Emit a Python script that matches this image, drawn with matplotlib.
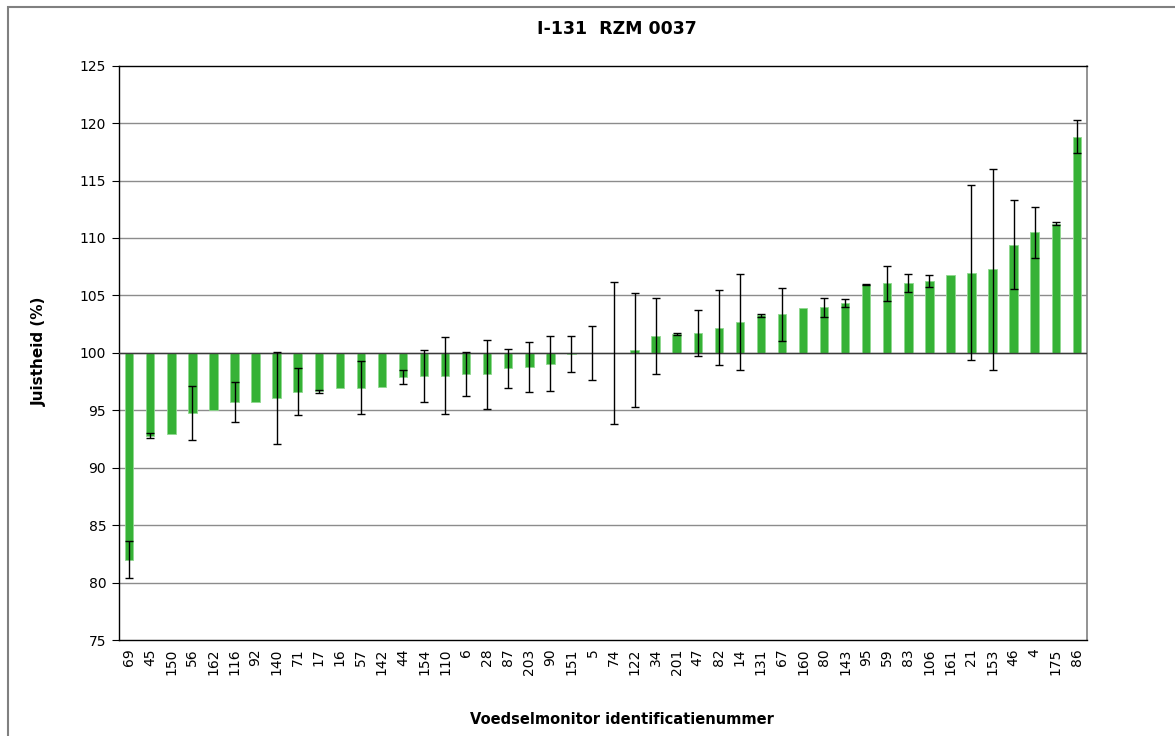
import matplotlib
matplotlib.use("Agg")
import matplotlib.pyplot as plt
from matplotlib.patches import Rectangle
import numpy as np

plt.rcParams['font.family'] = ['DejaVu Sans']

categories = ["69", "45", "150", "56", "162", "116", "92", "140", "71", "17", "16", "57",
              "142", "44", "154", "110", "6", "28", "87", "203", "90", "151", "5", "74",
              "122", "34", "201", "47", "82", "14", "131", "67", "160", "80", "143", "95",
              "59", "83", "106", "161", "21", "153", "46", "4", "175", "86"]
values = [82.0, 92.8, 92.9, 94.8, 95.0, 95.7, 95.7, 96.1, 96.6, 96.65, 96.9, 96.95,
          97.0, 97.9, 98.0, 98.0, 98.15, 98.15, 98.65, 98.75, 99.05, 99.9, 100.0, 100.0,
          100.28, 101.46, 101.64, 101.75, 102.2, 102.7, 103.26, 103.37, 103.87, 103.96, 104.33, 105.93,
          106.05, 106.07, 106.28, 106.8, 106.97, 107.26, 109.42, 110.48, 111.23, 118.83]
errors = [1.6, 0.25, 0, 2.35, 0, 1.75, 0, 4.0, 2.05, 0.15, 0, 2.3,
          0, 0.65, 2.25, 3.35, 1.9, 3.0, 1.7, 2.2, 2.4, 1.6, 2.33, 6.17,
          4.97, 3.3, 0.05, 2.0, 3.3, 4.2, 0.1, 2.3, 0, 0.85, 0.33, 0.05,
          1.5, 0.78, 0.53, 0, 7.6, 8.77, 3.9, 2.2, 0.12, 1.42]
yticks = [75, 80, 85, 90, 95, 100, 105, 110, 115, 120, 125]
baseline = 100

fig = plt.figure(figsize=(11.75, 7.36), dpi=100)
ax = fig.add_axes([118.7/1175, 1 - 640/736, (1087.3-118.7)/1175, (640-65.7)/736])

x = np.arange(len(categories))
vals = np.array(values)
errs = np.array(errors)

# grid lines
for t in yticks[1:-1]:
    ax.axhline(t, color='#8c8c8c', lw=1.0, zorder=0)

ax.bar(x, vals - baseline, bottom=baseline, width=0.4, color='#36b236',
       edgecolor='#8fd88f', linewidth=0.6, zorder=2)
ax.axhline(baseline, color='#3a3a3a', lw=1.0, zorder=3)

m = errs > 0
ax.errorbar(x[m], vals[m], yerr=errs[m], fmt='none', ecolor='black', elinewidth=1.0,
            capsize=3.0, capthick=1.0, zorder=4)

ax.set_xlim(-0.5, len(categories) - 0.5)
ax.set_ylim(75, 125)
ax.set_yticks(yticks)
ax.set_yticklabels([str(t) for t in yticks], fontsize=10)
ax.set_xticks(x)
ax.set_xticklabels(categories, rotation=90, fontsize=10)
ax.tick_params(axis='x', length=0, pad=6)
ax.tick_params(axis='y', length=5, width=0.8, pad=4, direction='out')

for s in ['left', 'top', 'bottom']:
    ax.spines[s].set_color('black')
    ax.spines[s].set_linewidth(1.0)
ax.spines['right'].set_color('#808080')
ax.spines['right'].set_linewidth(1.2)

fig.text(617/1175, 1 - 29/736, "I-131  RZM 0037", ha='center', va='center',
         fontsize=12.5, fontweight='bold')
fig.text(622/1175, 1 - 720/736, "Voedselmonitor identificatienummer", ha='center',
         va='center', fontsize=10.5, fontweight='bold')
fig.text(39/1175, 1 - 351/736, "Juistheid (%)", ha='center', va='center',
         rotation=90, fontsize=11, fontweight='bold')

fig.patches.append(Rectangle((8/1175, -0.2), 2.0, 1.2 - 7/736, transform=fig.transFigure,
                             fill=False, edgecolor='#808080', linewidth=1.5, zorder=0))

fig.savefig("out.png", dpi=100)
